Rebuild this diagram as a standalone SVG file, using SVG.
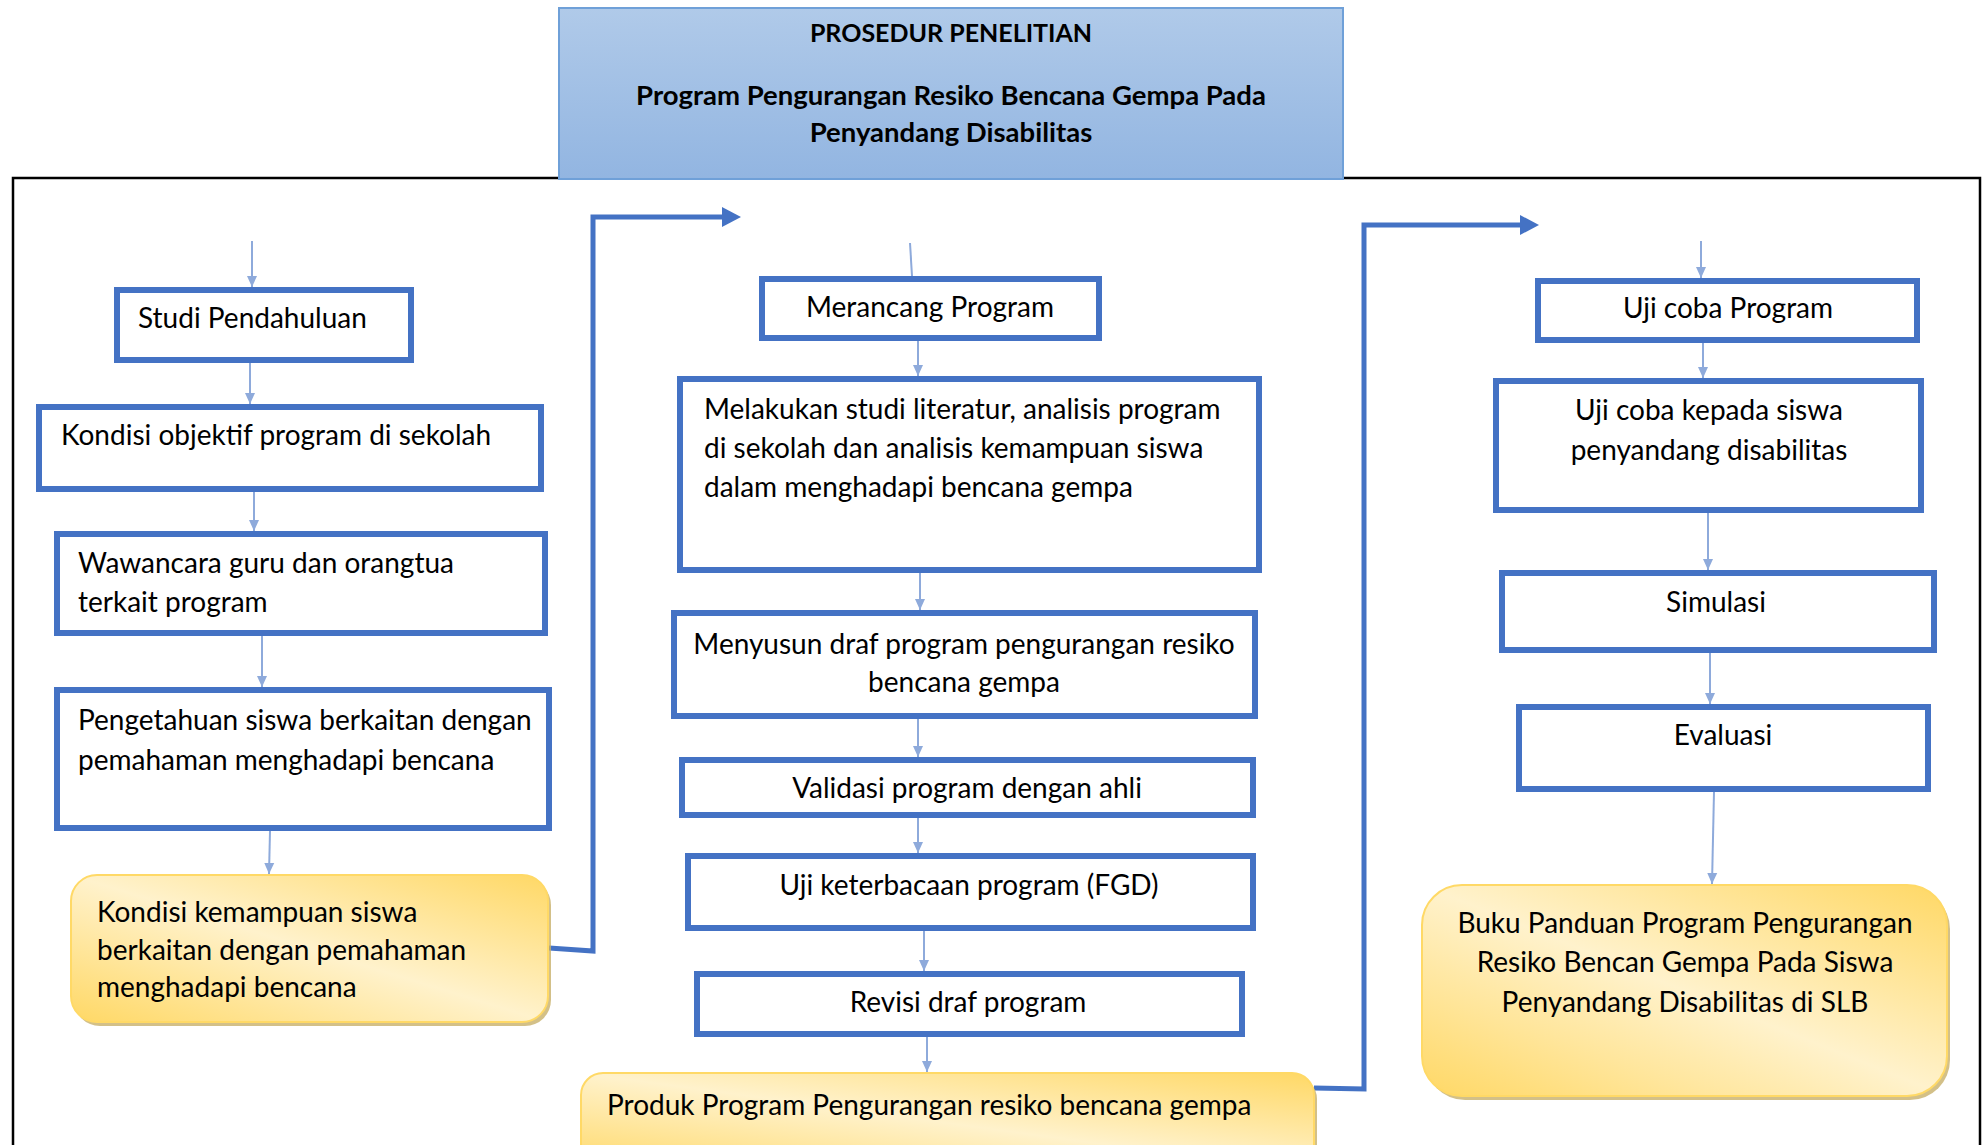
<svg xmlns="http://www.w3.org/2000/svg" width="1984" height="1145" viewBox="0 0 1984 1145">
<defs>
<linearGradient id="gTitle" x1="0" y1="0" x2="0" y2="1">
<stop offset="0" stop-color="#b0cae9"/>
<stop offset="1" stop-color="#92b5e1"/>
</linearGradient>
<linearGradient id="gYel" x1="1" y1="0" x2="0" y2="1">
<stop offset="0" stop-color="#ffd865"/>
<stop offset="0.5" stop-color="#fff2cc"/>
<stop offset="1" stop-color="#ffd865"/>
</linearGradient>
<marker id="ah" markerWidth="12" markerHeight="12" refX="11" refY="6" orient="auto" markerUnits="userSpaceOnUse">
<path d="M0,1 L11,6 L0,11 Z" fill="#8eaadb"/>
</marker>
<style>
.box{fill:#ffffff;stroke:#4472c4;stroke-width:6}
.yel{fill:url(#gYel);stroke:#ffd966;stroke-width:2}
.shd{fill:#c8b06a;opacity:0.8}
.t{font-family:Lato,"Liberation Sans",sans-serif;font-size:28px;fill:#000}
.c{text-anchor:middle}
.ttl{font-family:Lato,"Liberation Sans",sans-serif;font-size:27.5px;font-weight:bold;fill:#000;text-anchor:middle}
.ttl1{font-size:25px}
.thin{stroke:#8eaadb;stroke-width:2;fill:none;marker-end:url(#ah)}
.thick{stroke:#4472c4;stroke-width:5;fill:none}
</style>
</defs>
<rect x="13" y="178" width="1967" height="1000" fill="none" stroke="#000" stroke-width="2.5"/>
<g id="title">
<rect x="559" y="8" width="784" height="171" fill="url(#gTitle)" stroke="#6fa0d8" stroke-width="2"/>
<text class="ttl ttl1" x="951" y="42">PROSEDUR PENELITIAN</text>
<text class="ttl" x="951" y="105">Program Pengurangan Resiko Bencana Gempa Pada</text>
<text class="ttl" x="951" y="142">Penyandang Disabilitas</text>
</g>
<g id="connectors">
<path class="thin" d="M252,241 L252,287"/>
<path class="thin" d="M250,363 L250,404"/>
<path class="thin" d="M254,492 L254,531"/>
<path class="thin" d="M262,636 L262,687"/>
<path class="thin" d="M270,831 L269,874"/>
<path d="M910,243 L912,276" stroke="#8eaadb" stroke-width="2" fill="none"/>
<path class="thin" d="M918,341 L918,376"/>
<path class="thin" d="M920,573 L920,610"/>
<path class="thin" d="M918,719 L918,757"/>
<path class="thin" d="M918,818 L918,853"/>
<path class="thin" d="M924,931 L924,971"/>
<path class="thin" d="M927,1037 L927,1072"/>
<path class="thin" d="M1701,241 L1701,278"/>
<path class="thin" d="M1703,343 L1703,378"/>
<path class="thin" d="M1708,513 L1708,570"/>
<path class="thin" d="M1710,653 L1710,704"/>
<path class="thin" d="M1714,792 L1712,884"/>
<path class="thick" d="M549,948 L593,951 L593,217 L723,217"/>
<path d="M722,207 L741,217 L722,227 Z" fill="#4472c4"/>
<path class="thick" d="M1314,1088 L1364,1089 L1364,225 L1521,225"/>
<path d="M1520,215 L1539,225 L1520,235 Z" fill="#4472c4"/>
</g>
<g id="n-studi">
<rect class="box" x="117" y="290" width="294" height="70"/>
<text class="t" x="138" y="328">Studi Pendahuluan</text>
</g>
<g id="n-kondisi-objektif">
<rect class="box" x="39" y="407" width="502" height="82"/>
<text class="t" x="61" y="445">Kondisi objektif program di sekolah</text>
</g>
<g id="n-wawancara">
<rect class="box" x="57" y="534" width="488" height="99"/>
<text class="t" x="78" y="573">Wawancara guru dan orangtua</text>
<text class="t" x="78" y="612">terkait program</text>
</g>
<g id="n-pengetahuan">
<rect class="box" x="57" y="690" width="492" height="138"/>
<text class="t" x="78" y="730">Pengetahuan siswa berkaitan dengan</text>
<text class="t" x="78" y="770">pemahaman menghadapi bencana</text>
</g>
<g id="n-kondisi-kemampuan">
<rect class="shd" x="74" y="879" width="477" height="147" rx="26"/>
<rect class="yel" x="71" y="875" width="477" height="147" rx="26"/>
<text class="t" x="97" y="922">Kondisi kemampuan siswa</text>
<text class="t" x="97" y="960">berkaitan dengan pemahaman</text>
<text class="t" x="97" y="997">menghadapi bencana</text>
</g>
<g id="n-merancang">
<rect class="box" x="762" y="279" width="337" height="59"/>
<text class="t c" x="930" y="317">Merancang Program</text>
</g>
<g id="n-melakukan">
<rect class="box" x="680" y="379" width="579" height="191"/>
<text class="t" x="704" y="419">Melakukan studi literatur, analisis program</text>
<text class="t" x="704" y="458">di sekolah dan analisis kemampuan siswa</text>
<text class="t" x="704" y="497">dalam menghadapi bencana gempa</text>
</g>
<g id="n-menyusun">
<rect class="box" x="674" y="613" width="581" height="103"/>
<text class="t c" x="964" y="654">Menyusun draf program pengurangan resiko</text>
<text class="t c" x="964" y="692">bencana gempa</text>
</g>
<g id="n-validasi">
<rect class="box" x="682" y="760" width="571" height="55"/>
<text class="t c" x="967" y="798">Validasi program dengan ahli</text>
</g>
<g id="n-uji-keterbacaan">
<rect class="box" x="688" y="856" width="565" height="72"/>
<text class="t c" x="969" y="895">Uji keterbacaan program (FGD)</text>
</g>
<g id="n-revisi">
<rect class="box" x="697" y="974" width="545" height="60"/>
<text class="t c" x="968" y="1012">Revisi draf program</text>
</g>
<g id="n-produk">
<rect class="shd" x="584" y="1077" width="733" height="100" rx="22"/>
<rect class="yel" x="581" y="1073" width="733" height="100" rx="22"/>
<text class="t" x="607" y="1115">Produk Program Pengurangan resiko bencana gempa</text>
</g>
<g id="n-ujicoba-program">
<rect class="box" x="1538" y="281" width="379" height="59"/>
<text class="t c" x="1728" y="318">Uji coba Program</text>
</g>
<g id="n-ujicoba-siswa">
<rect class="box" x="1496" y="381" width="425" height="129"/>
<text class="t c" x="1709" y="420">Uji coba kepada siswa</text>
<text class="t c" x="1709" y="460">penyandang disabilitas</text>
</g>
<g id="n-simulasi">
<rect class="box" x="1502" y="573" width="432" height="77"/>
<text class="t c" x="1716" y="612">Simulasi</text>
</g>
<g id="n-evaluasi">
<rect class="box" x="1519" y="707" width="409" height="82"/>
<text class="t c" x="1723" y="745">Evaluasi</text>
</g>
<g id="n-buku">
<rect class="shd" x="1425" y="889" width="525" height="211" rx="40"/>
<rect class="yel" x="1422" y="885" width="525" height="211" rx="40"/>
<text class="t c" x="1685" y="933">Buku Panduan Program Pengurangan</text>
<text class="t c" x="1685" y="972">Resiko Bencan Gempa Pada Siswa</text>
<text class="t c" x="1685" y="1012">Penyandang Disabilitas di SLB</text>
</g>
</svg>
